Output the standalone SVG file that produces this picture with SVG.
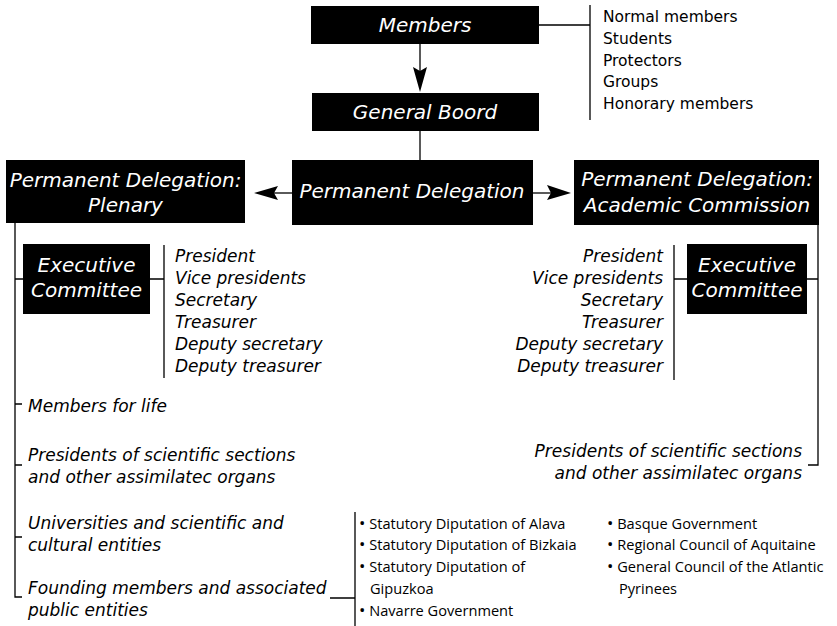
<svg xmlns="http://www.w3.org/2000/svg" width="837" height="626" viewBox="0 0 837 626">
<defs>
<style>
.box{fill:#000}
.bt{fill:#fff;font-family:"DejaVu Sans",sans-serif;font-style:italic;font-size:20px;text-anchor:middle}
.ln{stroke:#000;stroke-width:1.3;fill:none}
.up{font-family:"DejaVu Sans",sans-serif;font-size:15.5px;fill:#000}
.it{font-family:"DejaVu Sans",sans-serif;font-style:italic;font-size:17px;fill:#000}
.bl{font-family:"Open Sans","Noto Sans",sans-serif;font-size:14.6px;fill:#000}
.b{font-size:17px}
.r{text-anchor:end}
.ah{fill:#000}
</style>
</defs>
<rect width="837" height="626" fill="#fff"/>
<g id="connectors">
<path class="ln" d="M539,25H590M590,5V120"/>
<path class="ln" d="M420,44V75"/>
<path class="ah" d="M413,67L420,71L427,67L420,92Z"/>
<path class="ln" d="M420,131V160"/>
<path class="ln" d="M292,193H272"/>
<path class="ah" d="M278,186L274,193L278,200L254,193Z"/>
<path class="ln" d="M533,193H552"/>
<path class="ah" d="M547,185L551,193L547,200L571,193Z"/>
<path class="ln" d="M15,223V597H22M15,279H23M15,404H22M15,465H22M15,537H22"/>
<path class="ln" d="M150,279H164M164,245V378"/>
<path class="ln" d="M818,225V465H808M807,279H818"/>
<path class="ln" d="M674,279H687M674,245V380"/>
<path class="ln" d="M330,598H355M355,512V626"/>
</g>
<g id="members">
<rect class="box" x="311" y="6" width="228" height="38"/>
<text class="bt" x="425" y="32">Members</text>
</g>
<g id="member-types">
<text class="up" x="603" y="22">Normal members</text>
<text class="up" x="603" y="44">Students</text>
<text class="up" x="603" y="66">Protectors</text>
<text class="up" x="603" y="87">Groups</text>
<text class="up" x="603" y="109">Honorary members</text>
</g>
<g id="general-board">
<rect class="box" x="312" y="93" width="227" height="38"/>
<text class="bt" x="425" y="119">General Boord</text>
</g>
<g id="permanent-delegation">
<rect class="box" x="292" y="160" width="241" height="65"/>
<text class="bt" x="412" y="198">Permanent Delegation</text>
</g>
<g id="pd-plenary">
<rect class="box" x="6" y="160" width="239" height="63"/>
<text class="bt" x="125.5" y="187">Permanent Delegation:</text>
<text class="bt" x="125.5" y="212">Plenary</text>
</g>
<g id="pd-academic">
<rect class="box" x="574" y="160" width="245" height="65"/>
<text class="bt" x="697" y="186">Permanent Delegation:</text>
<text class="bt" x="697" y="212">Academic Commission</text>
</g>
<g id="exec-left">
<rect class="box" x="23" y="244" width="127" height="70"/>
<text class="bt" x="86.5" y="272">Executive</text>
<text class="bt" x="86.5" y="297">Committee</text>
</g>
<g id="exec-left-list">
<text class="it" x="175" y="262">President</text>
<text class="it" x="175" y="284">Vice presidents</text>
<text class="it" x="175" y="306">Secretary</text>
<text class="it" x="175" y="328">Treasurer</text>
<text class="it" x="175" y="350">Deputy secretary</text>
<text class="it" x="175" y="372">Deputy treasurer</text>
</g>
<g id="exec-right">
<rect class="box" x="687" y="244" width="120" height="70"/>
<text class="bt" x="747" y="272">Executive</text>
<text class="bt" x="747" y="297">Committee</text>
</g>
<g id="exec-right-list">
<text class="it r" x="663" y="262">President</text>
<text class="it r" x="663" y="284">Vice presidents</text>
<text class="it r" x="663" y="306">Secretary</text>
<text class="it r" x="663" y="328">Treasurer</text>
<text class="it r" x="663" y="350">Deputy secretary</text>
<text class="it r" x="663" y="372">Deputy treasurer</text>
</g>
<g id="members-for-life">
<text class="it" x="28" y="412">Members for life</text>
</g>
<g id="presidents-left">
<text class="it" x="28" y="461">Presidents of scientific sections</text>
<text class="it" x="28" y="483">and other assimilatec organs</text>
</g>
<g id="universities">
<text class="it" x="28" y="529">Universities and scientific and</text>
<text class="it" x="28" y="551">cultural entities</text>
</g>
<g id="founding">
<text class="it" x="28" y="594">Founding members and associated</text>
<text class="it" x="28" y="616">public entities</text>
</g>
<g id="presidents-right">
<text class="it r" x="802" y="457">Presidents of scientific sections</text>
<text class="it r" x="802" y="479">and other assimilatec organs</text>
</g>
<g id="public-entities">
<text class="bl" x="359" y="529"><tspan class="b">•</tspan> Statutory Diputation of Alava</text>
<text class="bl" x="359" y="550"><tspan class="b">•</tspan> Statutory Diputation of Bizkaia</text>
<text class="bl" x="359" y="572"><tspan class="b">•</tspan> Statutory Diputation of</text>
<text class="bl" x="370" y="594">Gipuzkoa</text>
<text class="bl" x="359" y="616"><tspan class="b">•</tspan> Navarre Government</text>
<text class="bl" x="607" y="529"><tspan class="b">•</tspan> Basque Government</text>
<text class="bl" x="607" y="550"><tspan class="b">•</tspan> Regional Council of Aquitaine</text>
<text class="bl" x="607" y="572"><tspan class="b">•</tspan> General Council of the Atlantic</text>
<text class="bl" x="619" y="594">Pyrinees</text>
</g>
</svg>
